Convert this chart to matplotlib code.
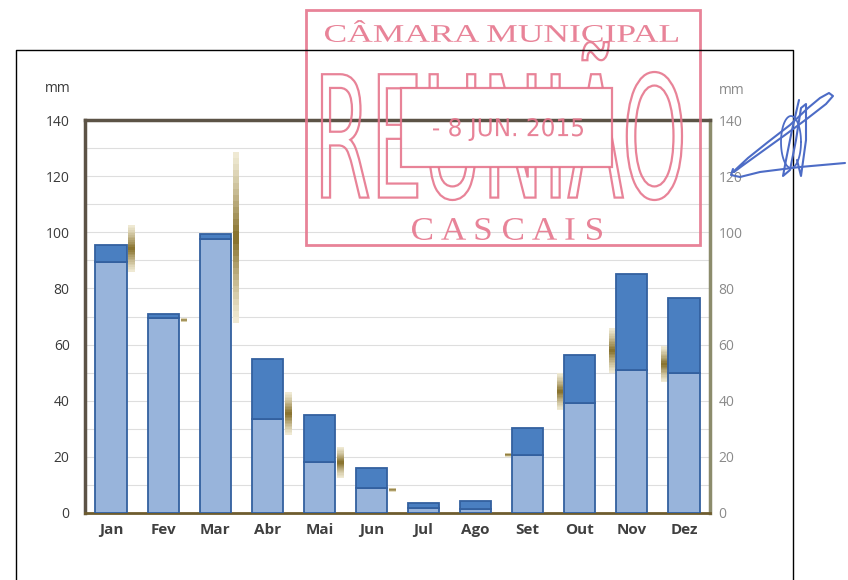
import numpy as np
import matplotlib
matplotlib.use("Agg")
import matplotlib.pyplot as plt
from matplotlib.patches import Rectangle, PathPatch
from matplotlib.path import Path
from matplotlib.textpath import TextPath
from matplotlib.font_manager import FontProperties
from matplotlib.transforms import Affine2D

# monthly rainfall (mm)
months = ['Jan', 'Fev', 'Mar', 'Abr', 'Mai', 'Jun', 'Jul', 'Ago', 'Set', 'Out', 'Nov', 'Dez']
base = [89.5, 69.5, 97.5, 33.5, 18.2, 8.9, 1.8, 1.4, 20.7, 39.2, 50.9, 49.9]
total = [95.5, 71.0, 99.4, 54.9, 34.9, 16.0, 3.6, 4.3, 30.3, 56.3, 85.1, 76.6]
mark_lo = [85.8, 68.0, 67.7, 27.8, 12.5, 7.5, np.nan, np.nan, 20.0, 36.7, 49.9, 46.7]
mark_hi = [102.6, 69.5, 128.6, 43.1, 23.5, 9.0, np.nan, np.nan, 21.5, 49.9, 65.9, 59.5]
yticks = [0, 20, 40, 60, 80, 100, 120, 140]

LIGHT = '#98b4db'
DARK = '#4a7fc1'
EDGE = '#33609f'
STAMP = '#e6768d'
W, H = 848, 580

fig = plt.figure(figsize=(W / 100, H / 100), dpi=100)
ax = fig.add_axes([85 / W, 1 - 513 / H, 625 / W, 393 / H])

x = np.arange(len(months))
top = np.array(total) - np.array(base)
ax.bar(x, base, 0.6, color=LIGHT, edgecolor=EDGE, linewidth=1.3, zorder=3)
ax.bar(x, top, 0.6, bottom=base, color=DARK, edgecolor=EDGE, linewidth=1.3, zorder=3)

# golden range marks with a soft gradient (dark in the middle)
pale = np.array(matplotlib.colors.to_rgb('#efe9d3'))
gold = np.array(matplotlib.colors.to_rgb('#8a7430'))
n = 14
for i in range(len(months)):
    lo, hi = mark_lo[i], mark_hi[i]
    if np.isnan(lo):
        continue
    side = 0.4 if i < 6 else -0.38
    mid = (lo + hi) / 2
    half = (hi - lo) / 2
    for k in range(n):
        f = 1 - k / n
        c = pale + (gold - pale) * (k / (n - 1)) ** 1.2
        ax.bar(x[i] + side, 2 * half * f, 0.13, bottom=mid - half * f,
               color=c, linewidth=0, zorder=2)

ax.set_xlim(-0.5, len(months) - 0.5)
ax.set_ylim(0, 140)
ax.set_yticks(yticks)
ax.set_yticks(np.arange(0, 141, 10), minor=True)
ax.grid(axis='y', which='both', color='#dedede', linewidth=0.8, zorder=0)
ax.set_xticks(x)
ax.set_xticklabels(months, fontsize=11, color='#404040', fontweight='bold', family='Open Sans')
ax.tick_params(axis='x', length=0, pad=7)
ax.tick_params(axis='y', which='both', length=0, pad=11, labelsize=10, labelcolor='#3a3a3a')
for lab in ax.get_yticklabels():
    lab.set_family('Open Sans')

ax.spines['left'].set_color('#5c5346')
ax.spines['left'].set_linewidth(2.5)
ax.spines['top'].set_color('#5c5346')
ax.spines['top'].set_linewidth(2.5)
ax.spines['bottom'].set_color('#6e5c2e')
ax.spines['bottom'].set_linewidth(2)
ax.spines['right'].set_color('#8c8c6c')
ax.spines['right'].set_linewidth(2.5)

ax2 = ax.twinx()
ax2.set_ylim(0, 140)
ax2.set_yticks(yticks)
ax2.tick_params(axis='y', length=0, pad=6, labelsize=10, labelcolor='#8a8a8a')
for lab in ax2.get_yticklabels():
    lab.set_family('Open Sans')
for s in ax2.spines.values():
    s.set_visible(False)

# overlay in pixel coordinates: page frame, stamp, signature
ov = fig.add_axes([0, 0, 1, 1], zorder=10)
ov.set_xlim(0, W)
ov.set_ylim(H, 0)
ov.axis('off')

ov.text(58, 88, 'mm', ha='center', va='center', fontsize=10, color='#3a3a3a', family='Open Sans')
ov.text(732, 90, 'mm', ha='center', va='center', fontsize=10, color='#8a8a8a', family='Open Sans')

ov.plot([16, 16, 793, 793], [H, 50, 50, H], color='black', lw=1)


def fit_text(s, ref, x0, x1, ytop, ybot, prop):
    # x scale from the full string, y scale from the cap height of ref
    rb = TextPath((0, 0), ref, size=100, prop=prop).get_extents()
    tp = TextPath((0, 0), s, size=100, prop=prop)
    fb = tp.get_extents()
    sx = (x1 - x0) / fb.width
    sy = (ybot - ytop) / rb.height
    tr = Affine2D().translate(-fb.x0, -rb.y0).scale(sx, -sy).translate(x0, ybot)
    return tr.transform_path(tp)


serif = FontProperties(family='Liberation Serif')
sans = FontProperties(family='DejaVu Sans')

ov.add_patch(Rectangle((306, 10), 394, 235, fill=False, edgecolor=STAMP, lw=2.0, alpha=0.9))
ov.add_patch(Rectangle((401, 88), 211, 79, fill=False, edgecolor=STAMP, lw=1.6, alpha=0.9))

p = fit_text('CÂMARA MUNICIPAL', 'CAMARA MUNICIPAL', 325, 678, 25, 42, serif)
ov.add_patch(PathPatch(p, facecolor=STAMP, edgecolor='none', alpha=0.9))

p = fit_text('REUNIÃO', 'REUNIO', 322, 682, 72, 200, sans)
word = PathPatch(p, facecolor='none', edgecolor=STAMP, lw=1.6, alpha=0.9)
ov.add_patch(word)
hole = Path([(306, 10), (700, 10), (700, 245), (306, 245), (306, 10),
             (401, 88), (401, 167), (612, 167), (612, 88), (401, 88)],
            [1, 2, 2, 2, 79, 1, 2, 2, 2, 79])
clip = PathPatch(hole, transform=ov.transData, facecolor='none', edgecolor='none')
word.set_clip_path(clip)

p = fit_text('- 8 JUN. 2015', '8 JUN. 2015', 433, 583, 118, 141, sans)
ov.add_patch(PathPatch(p, facecolor=STAMP, edgecolor='none', alpha=0.9))

p = fit_text('C A S C A I S', 'C A S C A I S', 412, 602, 218, 240, serif)
ov.add_patch(PathPatch(p, facecolor=STAMP, edgecolor='none', alpha=0.9))

# signature
SIG = '#4d6cc6'
sig_a = [(733, 172), (748, 158), (768, 142), (790, 125), (808, 108), (820, 98),
         (829, 93), (833, 96), (826, 104), (808, 118), (785, 135), (760, 153),
         (742, 166), (734, 172)]
sig_b = [(799, 100), (792, 130), (786, 160), (783, 176), (790, 170), (796, 140),
         (801, 108), (806, 104), (806, 140), (801, 176), (797, 160)]
sig_c = [(733, 169), (731, 175), (740, 177), (760, 172), (800, 167), (845, 163)]
for s in (sig_a, sig_b, sig_c):
    xs, ys = zip(*s)
    ov.plot(xs, ys, color=SIG, lw=1.5, solid_capstyle='round', solid_joinstyle='round')
t = np.linspace(0, 2 * np.pi, 60)
ov.plot(791 + 10 * np.cos(t), 142 + 26 * np.sin(t), color=SIG, lw=1.3)

fig.savefig('out.png', dpi=100)
